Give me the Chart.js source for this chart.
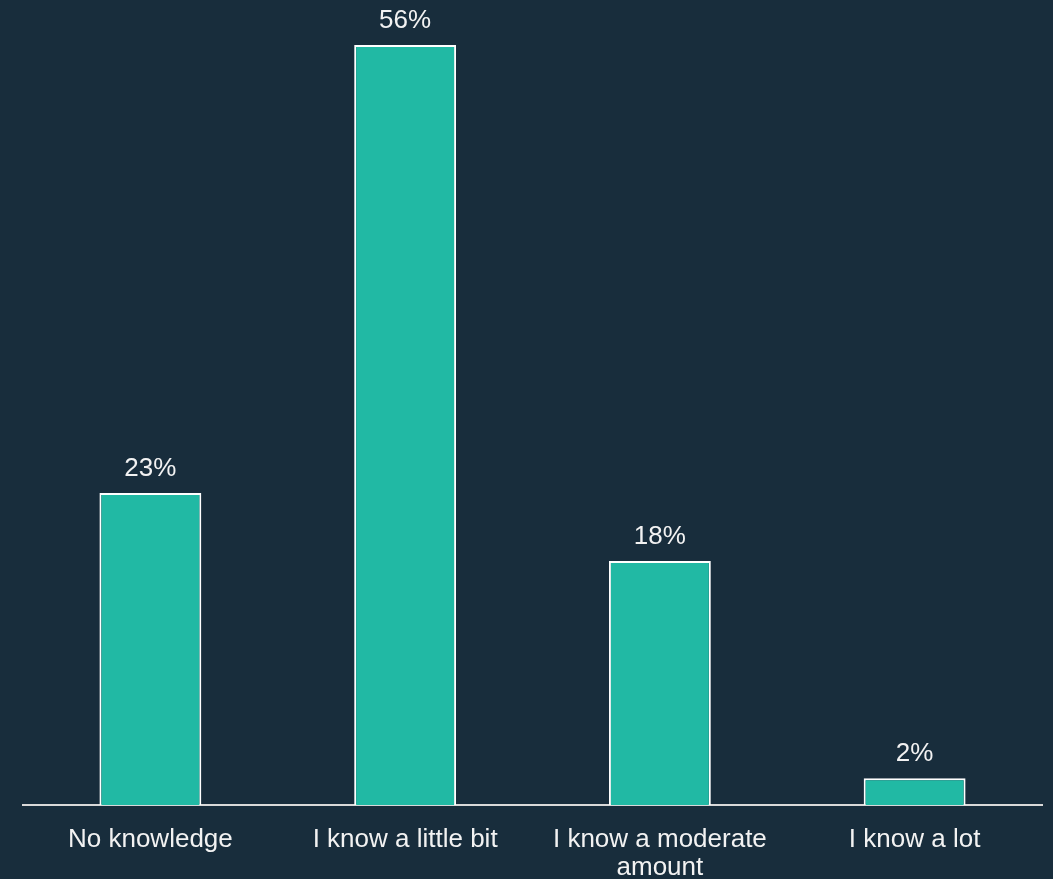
<!DOCTYPE html>
<html>
<head>
<meta charset="utf-8">
<script src="https://cdn.jsdelivr.net/npm/chart.js@4/dist/chart.umd.min.js"></script>
<style>
  html, body { margin: 0; padding: 0; background: #182d3c; }
  #wrap { width: 1053px; height: 879px; position: relative; }
</style>
</head>
<body>
<div id="wrap"><canvas id="knowledge-chart"></canvas></div>
<script>
// survey answers and share of respondents (%)
const categories = [
    "No knowledge",
    "I know a little bit",
    ["I know a moderate", "amount"],
    "I know a lot"
];
const shares = [23, 56, 18, 2];

const textColor = '#f2f2f2';
const fontFamily = "'Liberation Sans', Arial, sans-serif";

// writes the percentage above each bar
const valueLabels = {
    id: 'valueLabels',
    afterDatasetsDraw(chart) {
        const ctx = chart.ctx;
        const meta = chart.getDatasetMeta(0);
        ctx.save();
        ctx.fillStyle = textColor;
        ctx.font = '26px ' + fontFamily;
        ctx.textAlign = 'center';
        ctx.textBaseline = 'alphabetic';
        meta.data.forEach((bar, i) => {
            ctx.fillText(shares[i] + '%', bar.x, bar.y - 17);
        });
        ctx.restore();
    }
};

const knowledgeCanvas = document.getElementById('knowledge-chart');

let knowledgeChart = new Chart(knowledgeCanvas, {
    type: 'bar',
    data: {
        labels: categories,
        datasets: [{
            data: shares,
            backgroundColor: '#21b9a4',
            borderColor: '#ffffff',
            borderWidth: 2,
            categoryPercentage: 0.4,
            barPercentage: 1
        }]
    },
    options: {
        responsive: true,
        maintainAspectRatio: false,
        animation: {
            duration: 0
        },
        layout: {
            padding: { top: 45, left: 23, right: 11, bottom: -24 }
        },
        scales: {
            y: {
                display: false,
                min: 0,
                max: 56
            },
            x: {
                grid: {
                    display: false,
                    drawTicks: false
                },
                border: {
                    color: '#d9d9d9',
                    width: 2
                },
                ticks: {
                    color: textColor,
                    padding: 21,
                    maxRotation: 0,
                    font: {
                        family: fontFamily,
                        size: 26,
                        lineHeight: 1.07
                    }
                }
            }
        },
        plugins: {
            legend: {
                display: false
            },
            tooltip: {
                enabled: false
            }
        }
    },
    plugins: [valueLabels]
});
</script>
</body>
</html>
